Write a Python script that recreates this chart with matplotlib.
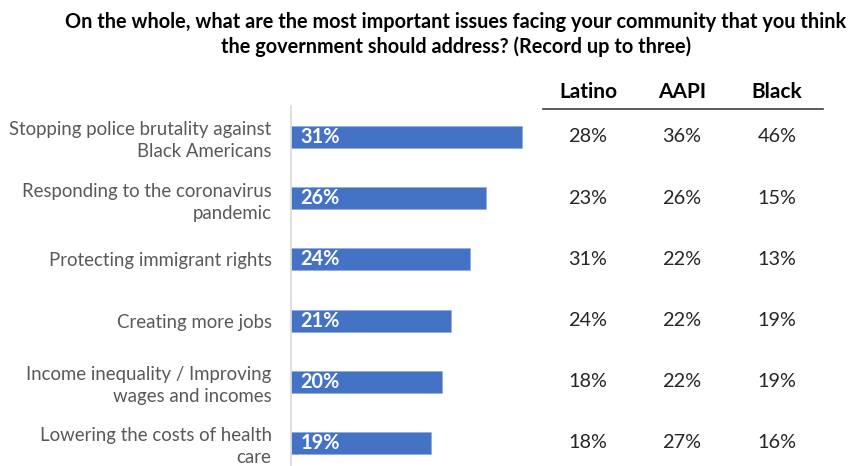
import matplotlib
matplotlib.use('Agg')
from matplotlib import pyplot as plt

plt.rcParams['font.family'] = ['Lato', 'DejaVu Sans']

categories = ['Stopping police brutality against\nBlack Americans',
              'Responding to the coronavirus\npandemic',
              'Protecting immigrant rights',
              'Creating more jobs',
              'Income inequality / Improving\nwages and incomes',
              'Lowering the costs of health\ncare']
# bar lengths (labels are rounded)
overall = [30.9, 26.1, 24.0, 21.5, 20.2, 18.7]
overall_labels = ['31%', '26%', '24%', '21%', '20%', '19%']
groups = ['Latino', 'AAPI', 'Black']
latino = [28, 23, 31, 24, 18, 18]
aapi = [36, 26, 22, 22, 22, 27]
black = [46, 15, 13, 19, 19, 16]

W, H = 861, 466
fig = plt.figure(figsize=(W / 100, H / 100), dpi=100)

fig.text(456 / W, 1 - 22 / H,
         'On the whole, what are the most important issues facing your community that you think',
         ha='center', va='center', fontsize=14.3, fontweight='bold', color='black')
fig.text(456 / W, 1 - 47 / H,
         'the government should address? (Record up to three)',
         ha='center', va='center', fontsize=14.3, fontweight='bold', color='black')

# bar axes
top, bot = 106.4, 473.6
ax = fig.add_axes([291 / W, 1 - bot / H, 298.4 / W, (bot - top) / H])
ax.patch.set_alpha(0)
n = len(categories)
ypos = list(range(n))
ax.barh(ypos, overall, height=0.36, color='#4472C4', edgecolor='#8FAADC', linewidth=0.5)
ax.set_xlim(0, 40)
ax.set_ylim(n - 0.5, -0.5)
for s in ['top', 'right', 'bottom']:
    ax.spines[s].set_visible(False)
ax.spines['left'].set_color('#D9D9D9')
ax.spines['left'].set_linewidth(1.2)
ax.set_xticks([])
ax.set_yticks(ypos)
ax.set_yticklabels(categories, fontsize=13.4, color='#595959', linespacing=1.35)
ax.tick_params(axis='y', length=0, pad=14)
for i, lab in enumerate(overall_labels):
    ax.text(1.3, i, lab, ha='left', va='center', color='white',
            fontsize=14.3, fontweight='bold')

# table on the right
cols_x = [588, 682, 777]
for gx, g in zip(cols_x, groups):
    fig.text(gx / W, 1 - 92 / H, g, ha='center', va='center',
             fontsize=15, fontweight='bold', color='black')
fig.add_artist(plt.Line2D([543 / W, 823 / W], [1 - 109 / H, 1 - 109 / H],
                          color='#404040', linewidth=1.2))
for vals, gx in zip([latino, aapi, black], cols_x):
    for i, v in enumerate(vals):
        y = (i + 0.5) / n
        yp = top + y * (bot - top)
        fig.text(gx / W, 1 - yp / H, f'{v}%', ha='center', va='center',
                 fontsize=14.3, color='#262626')

plt.savefig('out.png', dpi=100)
